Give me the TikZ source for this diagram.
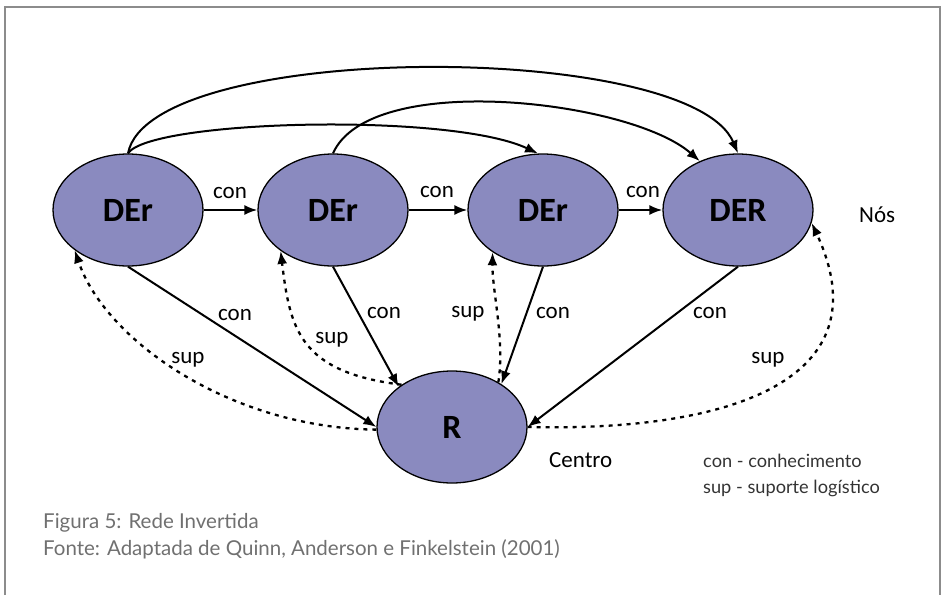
\documentclass[tikz,border=0pt]{standalone}
\usepackage{fontspec}
\setmainfont{Carlito}
\newfontfamily\capfont{Lato}
\usetikzlibrary{shapes.geometric,arrows.meta}
\definecolor{nodefill}{HTML}{8A8ABF}
\definecolor{framegray}{HTML}{8C8C8C}
\definecolor{capgray}{HTML}{707070}
\definecolor{leggray}{HTML}{333333}
\begin{document}
\begin{tikzpicture}[x=1pt,y=1pt,
  ell/.style={ellipse,draw=black,line width=1.3pt,fill=nodefill,minimum width=150pt,minimum height=112pt,inner sep=0pt,font=\fontsize{34}{40}\selectfont\bfseries},
  conarrow/.style={line width=2pt,-{Latex[length=13pt,width=10pt]}},
  suparrow/.style={line width=2.3pt,dash pattern=on 4pt off 5pt,-{Latex[length=13pt,width=10pt]}},
  lab/.style={font=\fontsize{23}{27}\selectfont,inner sep=0pt},
  captext/.style={font=\capfont\fontsize{20.5}{24}\selectfont,text=capgray,inner sep=0pt,anchor=base west},
  legtext/.style={font=\capfont\fontsize{18.2}{22}\selectfont,text=leggray,inner sep=0pt,anchor=base west}
]
\useasboundingbox (0,0) rectangle (943,-595);
\draw[framegray,line width=2.5pt] (5,-595) -- (5,-7) -- (940,-7) -- (940,-595);

\node[ell] (d1) at (128,-210) {DEr};
\node[ell] (d2) at (333,-210) {DEr};
\node[ell] (d3) at (543,-210) {DEr};
\node[ell] (d4) at (738,-210) {DER};
\node[ell] (r) at (452,-427) {R};

% horizontal con arrows
\draw[conarrow] (d1.east) -- (d2.west);
\draw[conarrow] (d2.east) -- (d3.west);
\draw[conarrow] (d3.east) -- (d4.west);

% arcs over the top
\draw[conarrow] (d1.north) .. controls (150,-40) and (690,-40) .. (d4.north);
\draw[conarrow] (d2.north) .. controls (370,-70) and (630,-100) .. (d4.128);
\draw[conarrow] (d1.north) .. controls (150,-120) and (450,-112) .. (d3.95);

% con to centre
\draw[conarrow] (d1.south) -- (r.west);
\draw[conarrow] (d2.south) -- (r.143);
\draw[conarrow] (d3.south) -- (r.41);
\draw[conarrow] (d4.south) -- (r.east);

% sup dotted arrows
\draw[suparrow] (r.182) .. controls (230,-428) and (105,-340) .. (d1.217);
\draw[suparrow] (r.140) .. controls (300,-372) and (290,-330) .. (d2.218);
\draw[suparrow] (r.44) .. controls (505,-340) and (492,-290) .. (d3.220);
\draw[suparrow] (r.east) .. controls (730,-432) and (885,-380) .. (d4.-10);

% labels
\node[lab] (l1) at (230,-193) {con};
\node[lab] (l2) at (437,-192) {con};
\node[lab] (l3) at (643,-192) {con};
\node[lab] (l4) at (235,-315) {con};
\node[lab] (l5) at (384,-313) {con};
\node[lab] (l6) at (553,-313) {con};
\node[lab] (l7) at (710,-313) {con};
\node[lab] (s1) at (188,-360) {sup};
\node[lab] (s2) at (332,-340) {sup};
\node[lab] (s3) at (468,-314) {sup};
\node[lab] (s4) at (768,-360) {sup};
\node[lab,anchor=base west] (nos) at (859,-222) {Nós};
\node[lab,anchor=base west] (centro) at (549,-467) {Centro};

\node[legtext] (leg1) at (703,-467) {con - conhecimento};
\node[legtext] (leg2) at (703,-493) {sup - suporte logístico};

\node[captext] (cap1) at (43,-528) {Figura 5: Rede Invertida};
\node[captext] (cap2) at (43,-555) {Fonte: Adaptada de Quinn, Anderson e Finkelstein (2001)};
\end{tikzpicture}
\end{document}
